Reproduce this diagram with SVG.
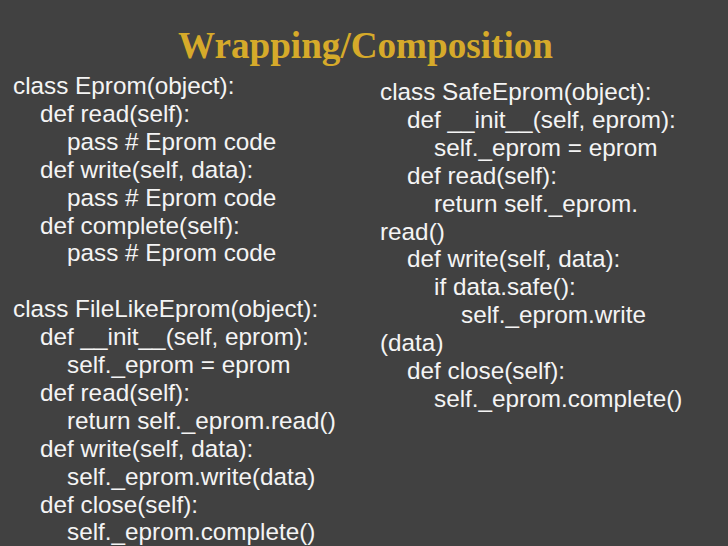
<svg xmlns="http://www.w3.org/2000/svg" width="728" height="546" viewBox="0 0 728 546">
<style>
.bg{fill:#414141}
.title{font-family:"Liberation Serif","Times New Roman",serif;font-weight:bold;font-size:37px;fill:#d6aa2a}
.code{font-family:"Liberation Sans",Arial,sans-serif;font-size:24.3px;fill:#f4f4f4}
</style>
<rect class="bg" x="0" y="0" width="728" height="546"/>
<g id="title">
<text class="title" x="365.5" y="58" text-anchor="middle" textLength="375" lengthAdjust="spacingAndGlyphs">Wrapping/Composition</text>
</g>
<g id="left-code" class="code">
<text x="13" y="94">class Eprom(object):</text>
<text x="40" y="121.9">def read(self):</text>
<text x="67" y="149.8">pass # Eprom code</text>
<text x="40" y="177.7">def write(self, data):</text>
<text x="67" y="205.6">pass # Eprom code</text>
<text x="40" y="233.5">def complete(self):</text>
<text x="67" y="261.4">pass # Eprom code</text>
<text x="13" y="317.2">class FileLikeEprom(object):</text>
<text x="40" y="345.1">def __init__(self, eprom):</text>
<text x="67" y="373">self._eprom = eprom</text>
<text x="40" y="400.9">def read(self):</text>
<text x="67" y="428.8">return self._eprom.read()</text>
<text x="40" y="456.7">def write(self, data):</text>
<text x="67" y="484.6">self._eprom.write(data)</text>
<text x="40" y="512.5">def close(self):</text>
<text x="67" y="540.4">self._eprom.complete()</text>
</g>
<g id="right-code" class="code">
<text x="380" y="100">class SafeEprom(object):</text>
<text x="407" y="127.9">def __init__(self, eprom):</text>
<text x="434" y="155.8">self._eprom = eprom</text>
<text x="407" y="183.7">def read(self):</text>
<text x="434" y="211.6">return self._eprom.</text>
<text x="380" y="239.5">read()</text>
<text x="407" y="267.4">def write(self, data):</text>
<text x="434" y="295.3">if data.safe():</text>
<text x="461" y="323.2">self._eprom.write</text>
<text x="380" y="351.1">(data)</text>
<text x="407" y="379">def close(self):</text>
<text x="434" y="406.9">self._eprom.complete()</text>
</g>
</svg>
